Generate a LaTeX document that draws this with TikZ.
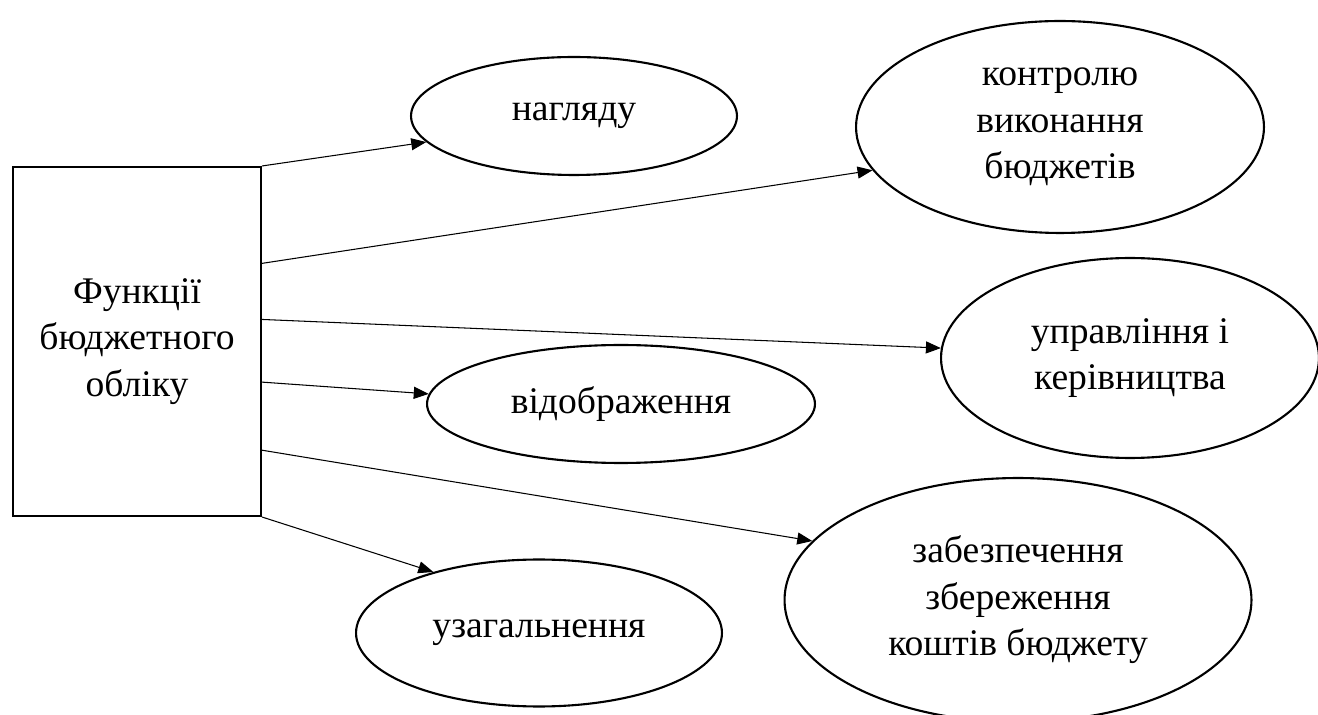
\documentclass[tikz,border=0pt]{standalone}
\usepackage{fontspec}
\setmainfont{Liberation Serif}
\usetikzlibrary{shapes.geometric,arrows.meta}
\begin{document}
\begin{tikzpicture}[x=0.02cm,y=-0.02cm]
    \tikzset{bloc/.style={draw, line width=1.2pt, minimum width=4.96cm, minimum height=6.98cm, inner sep=0pt, align=center, font=\fontsize{21.4}{26.5}\selectfont}}
    \tikzset{fonction/.style={draw, ellipse, line width=1.2pt, inner sep=0pt, align=center, font=\fontsize{21.4}{26.5}\selectfont}}
    \tikzset{fleche/.style={-{Triangle[length=0.3cm,width=0.24cm]}, line width=0.6pt}}
    \useasboundingbox (0,0) rectangle (1318,715);
    \node[bloc] (F) at (137,341.5) {Функції\\бюджетного\\обліку};
    \node[fonction, minimum width=6.52cm, minimum height=2.36cm] (N) at (574,116) {нагляду};
    \node[fonction, minimum width=8.16cm, minimum height=4.24cm] (K) at (1060,127) {контролю\\виконання\\бюджетів};
    \node[fonction, minimum width=7.56cm, minimum height=4cm] (U) at (1130,358) {управління і\\керівництва};
    \node[fonction, minimum width=7.76cm, minimum height=2.36cm] (V) at (621,404) {відображення};
    \node[fonction, minimum width=9.34cm, minimum height=4.88cm] (Zb) at (1018,600) {забезпечення\\збереження\\коштів бюджету};
    \node[fonction, minimum width=7.32cm, minimum height=2.94cm] (Z) at (539,633) {узагальнення};
    \draw[fleche] (F.north east) -- (N.190);
    \draw[fleche] (F.32) -- (K.193);
    \draw[fleche] (F.10) -- (U.177);
    \draw[fleche] (F.-18) -- (V.177);
    \draw[fleche] (F.-41) -- (Zb.164);
    \draw[fleche] (F.south east) -- (Z.150);
  \end{tikzpicture}
\end{document}
